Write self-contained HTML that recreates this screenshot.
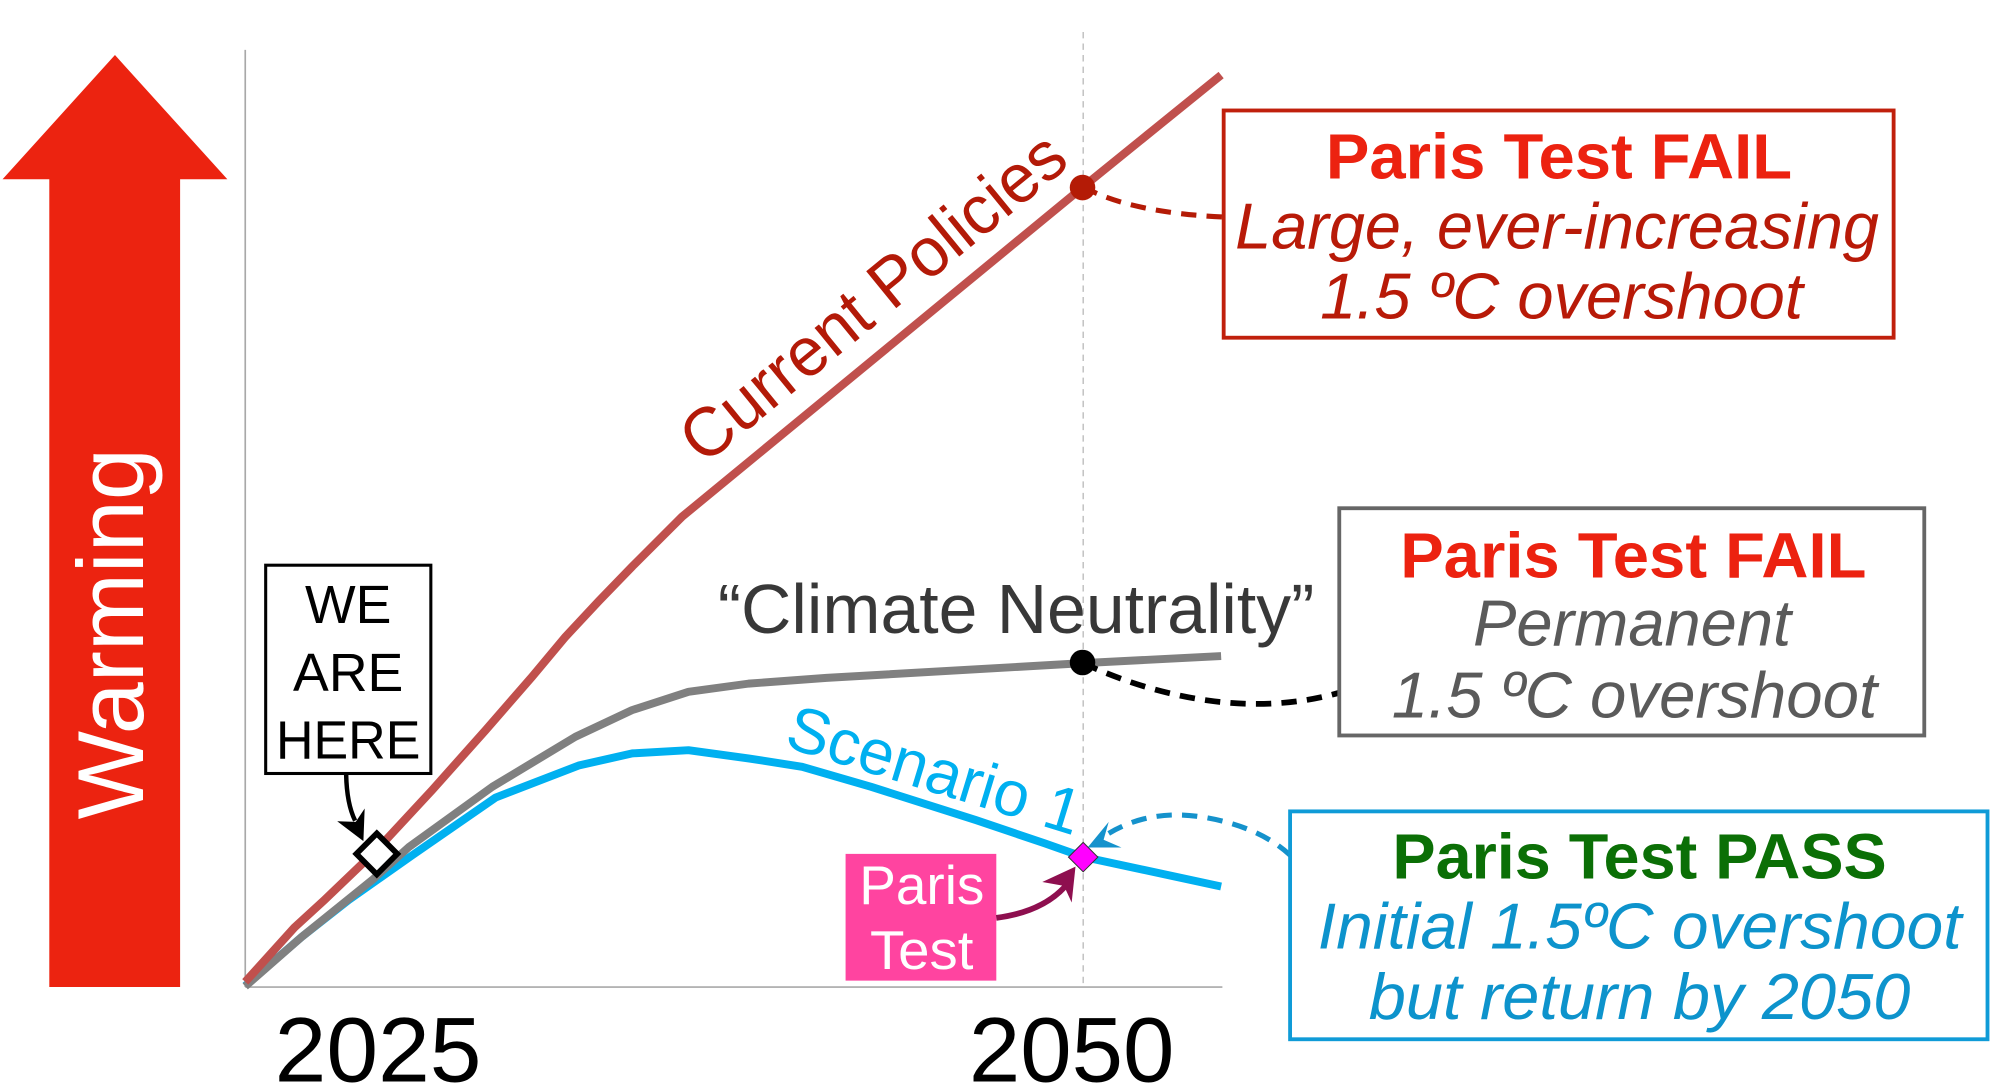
<!DOCTYPE html>
<html><head><meta charset="utf-8"><style>
html,body{margin:0;padding:0;background:#fff;}
svg{display:block;}
text{font-family:"Liberation Sans",Arial,Helvetica,sans-serif;}
</style></head><body>
<svg width="1999" height="1092" viewBox="0 0 1565 853" preserveAspectRatio="none" xmlns="http://www.w3.org/2000/svg">
<rect x="0" y="0" width="1565" height="853" fill="#fff"/>
<!-- Warming arrow -->
<polygon points="90,43 178,140 141,140 141,771 38.6,771 38.6,140 2,140" fill="#ec2310"/>
<text transform="translate(112,640) rotate(-90)" font-size="73.5" fill="#fff" textLength="290" lengthAdjust="spacingAndGlyphs">Warming</text>

<!-- axes -->
<line x1="192" y1="39" x2="192" y2="771" stroke="#a8a8a8" stroke-width="1.3"/>
<line x1="192" y1="771" x2="957" y2="771" stroke="#a8a8a8" stroke-width="1.3"/>
<line x1="848" y1="25" x2="848" y2="771" stroke="#b0b0b0" stroke-width="0.9" stroke-dasharray="5,4"/>

<!-- series -->
<polyline fill="none" stroke="#00b0f0" stroke-width="6.2" stroke-linejoin="round" points="192,770 236,732 273,703 322.9,668 388,623 453,598 495,588.5 539,586 586,592.4 628,599 682,614.6 764,640.6 818,658.8 848,669.3 956,692.5"/>
<polyline fill="none" stroke="#808080" stroke-width="6.2" stroke-linejoin="round" points="192,770.5 236,732 292,686.9 320.3,661.5 385.4,614.6 450.5,575.5 494.8,554.7 539,540.4 586,534 647,529.5 848,518 956,512.5"/>
<polyline fill="none" stroke="#c0504d" stroke-width="6.4" stroke-linejoin="round" points="192,767 230.5,724.5 254,703 294.3,664.5 338.5,617 380.2,570.3 416.6,528.6 442.7,497.4 468.8,469.5 494.8,442.7 534,403.6 847.3,146.5 956,58.6"/>

<!-- series labels -->
<text transform="translate(551,364) rotate(-39.3)" font-size="54" fill="#b31a08" textLength="372" lengthAdjust="spacingAndGlyphs">Current Policies</text>
<text x="562" y="494.5" font-size="54" fill="#383838" textLength="467" lengthAdjust="spacingAndGlyphs">“Climate Neutrality”</text>
<text transform="translate(613,583) rotate(17)" font-size="50" fill="#00b0f0" textLength="238" lengthAdjust="spacingAndGlyphs">Scenario 1</text>

<!-- connectors -->
<path d="M848,146 Q885,166 957,169.5" fill="none" stroke="#b41b06" stroke-width="4" stroke-dasharray="12,8"/>
<path d="M848,518 C900,542 975,562 1049,541" fill="none" stroke="#000" stroke-width="4.5" stroke-dasharray="12,8"/>
<path d="M868,651 Q900,632 940,638 Q985,645 1010,668" fill="none" stroke="#1592cc" stroke-width="4" stroke-dasharray="12,8"/>
<polygon points="851.5,662 868,642 864,656 878,662" fill="#1592cc"/>

<!-- dots -->
<circle cx="847.5" cy="146.5" r="10" fill="#b41b06"/>
<circle cx="847.5" cy="517.5" r="10" fill="#000"/>

<!-- Paris Test box -->
<rect x="662" y="667" width="118" height="99" fill="#ff44a0"/>
<text x="721.7" y="706" font-size="43" fill="#fff" text-anchor="middle" textLength="98" lengthAdjust="spacingAndGlyphs">Paris</text>
<text x="721.6" y="757" font-size="43" fill="#fff" text-anchor="middle" textLength="81" lengthAdjust="spacingAndGlyphs">Test</text>
<path d="M780,717 Q818,712 836,690" fill="none" stroke="#8e0f4f" stroke-width="4.5"/>
<polygon points="842,677 839,705 833,692 816,689" fill="#8e0f4f"/>
<polygon points="848,658 859.5,669.5 848,681 836.5,669.5" fill="#ff00ff" stroke="#333" stroke-width="0.8"/>

<!-- WE ARE HERE -->
<rect x="208" y="441.5" width="129.3" height="162.7" fill="#fff" stroke="#000" stroke-width="2.4"/>
<text x="272.6" y="486.5" font-size="42" fill="#000" text-anchor="middle">WE</text>
<text x="272.6" y="539.6" font-size="42" fill="#000" text-anchor="middle">ARE</text>
<text x="272.6" y="592.4" font-size="42" fill="#000" text-anchor="middle" textLength="113" lengthAdjust="spacingAndGlyphs">HERE</text>
<path d="M271,605 Q271.5,628 278,641" fill="none" stroke="#000" stroke-width="3.5"/>
<polygon points="284.5,657 264,641.5 278.5,642 285.5,631.5" fill="#000"/>
<polygon points="295,651 311,667 295,683 279,667" fill="#fff" stroke="#000" stroke-width="4.5"/>

<!-- tick labels -->
<text x="296" y="845" font-size="72" fill="#000" text-anchor="middle" textLength="162" lengthAdjust="spacingAndGlyphs">2025</text>
<text x="839" y="845" font-size="72" fill="#000" text-anchor="middle" textLength="161" lengthAdjust="spacingAndGlyphs">2050</text>

<!-- Box 1 -->
<rect x="958" y="86.3" width="524.5" height="177.5" fill="#fff" stroke="#c0200c" stroke-width="3"/>
<text x="1220.5" y="139.5" font-size="50" font-weight="bold" fill="#ec2210" text-anchor="middle" textLength="365" lengthAdjust="spacingAndGlyphs">Paris Test FAIL</text>
<text x="1219" y="194.2" font-size="51" font-style="italic" fill="#b81a08" text-anchor="middle" textLength="504" lengthAdjust="spacingAndGlyphs">Large, ever-increasing</text>
<text x="1222.5" y="248.9" font-size="51" font-style="italic" fill="#b81a08" text-anchor="middle" textLength="378" lengthAdjust="spacingAndGlyphs">1.5 ºC overshoot</text>

<!-- Box 2 -->
<rect x="1048.5" y="397" width="458" height="177.5" fill="#fff" stroke="#666" stroke-width="3"/>
<text x="1278.7" y="451.2" font-size="50" font-weight="bold" fill="#ec2210" text-anchor="middle" textLength="365" lengthAdjust="spacingAndGlyphs">Paris Test FAIL</text>
<text x="1277.7" y="504.3" font-size="51" font-style="italic" fill="#5a5a5a" text-anchor="middle" textLength="249" lengthAdjust="spacingAndGlyphs">Permanent</text>
<text x="1279.6" y="560.6" font-size="51" font-style="italic" fill="#5a5a5a" text-anchor="middle" textLength="380" lengthAdjust="spacingAndGlyphs">1.5 ºC overshoot</text>

<!-- Box 3 -->
<rect x="1010" y="633.8" width="546" height="178" fill="#fff" stroke="#0f9bd7" stroke-width="3"/>
<text x="1283.6" y="686.4" font-size="50" font-weight="bold" fill="#0b6f06" text-anchor="middle" textLength="387" lengthAdjust="spacingAndGlyphs">Paris Test PASS</text>
<text x="1283.7" y="741.1" font-size="51" font-style="italic" fill="#0d93cc" text-anchor="middle" textLength="504" lengthAdjust="spacingAndGlyphs">Initial 1.5ºC overshoot</text>
<text x="1283.6" y="795.8" font-size="51" font-style="italic" fill="#0d93cc" text-anchor="middle" textLength="424" lengthAdjust="spacingAndGlyphs">but return by 2050</text>
</svg>
</body></html>
